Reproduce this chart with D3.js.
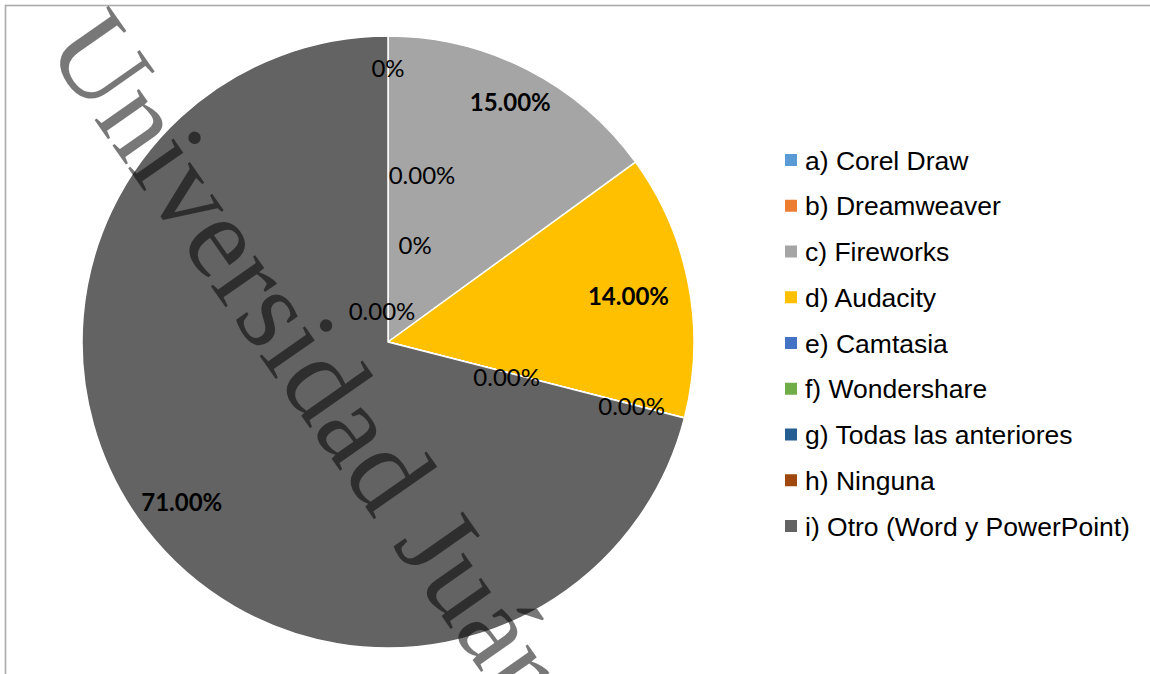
<!DOCTYPE html>
<html>
<head>
<meta charset="utf-8">
<script src="https://cdn.jsdelivr.net/npm/d3@7"></script>
<style>
  html, body { margin: 0; padding: 0; background: #fff; }
  svg { display: block; }
</style>
</head>
<body>
<svg id="chart" width="1150" height="674"></svg>
<script>
// ---- data ----
const categories = [
  "a) Corel Draw", "b) Dreamweaver", "c) Fireworks", "d) Audacity",
  "e) Camtasia", "f) Wondershare", "g) Todas las anteriores", "h) Ninguna",
  "i) Otro (Word y PowerPoint)"
];
const values = [0, 0, 15, 14, 0, 0, 0, 0, 71];
const valueLabels = ["0%", "0.00%", "15.00%", "14.00%", "0%", "0.00%", "0.00%", "0.00%", "71.00%"];
const boldLabels = [false, false, true, true, false, false, false, false, true];
const colors = ["#5B9BD5", "#ED7D31", "#A5A5A5", "#FFC000", "#4472C4", "#70AD47", "#255E91", "#9E480E", "#636363"];
const watermark = "Universidad Juárez";

// ---- layout (label placement as in the original, polar: degrees clockwise from top, fraction of radius) ----
const labelLayout = [
  { angle: 0, rf: 0.895 },
  { angle: 11.5, rf: 0.557 },
  { angle: null, rf: 0.88 },
  { angle: null, rf: 0.80 },
  { angle: 15.7, rf: 0.327 },
  { angle: -11, rf: 0.103 },
  { angle: 106.8, rf: 0.405 },
  { angle: 104.7, rf: 0.823 },
  { angle: null, rf: 0.853 }
];

const W = 1150, H = 674;
const cx = 388, cy = 342, R = 306;

const svg = d3.select("#chart");

// frame
svg.append("rect")
  .attr("x", 5.5).attr("y", 5.5)
  .attr("width", W + 20).attr("height", H + 20)
  .attr("fill", "none").attr("stroke", "#ababab").attr("stroke-width", 1.6);

const pie = d3.pie().sort(null).value(d => d)(values);
const arc = d3.arc().innerRadius(0).outerRadius(R);
const color = d3.scaleOrdinal().domain(categories).range(colors);

const g = svg.append("g").attr("transform", `translate(${cx},${cy})`);
g.selectAll("path.slice")
  .data(pie)
  .join("path")
  .attr("class", "slice")
  .attr("d", arc)
  .attr("fill", (d, i) => color(categories[i]))
  .attr("stroke", "#fff")
  .attr("stroke-width", 1.5)
  .attr("stroke-linejoin", "round");

// data labels
const toRad = Math.PI / 180;
g.selectAll("text.lbl")
  .data(pie)
  .join("text")
  .attr("class", "lbl")
  .each(function (d, i) {
    const L = labelLayout[i];
    const a = L.angle === null ? (d.startAngle + d.endAngle) / 2 : L.angle * toRad;
    const r = L.rf * R;
    d3.select(this)
      .attr("x", r * Math.sin(a))
      .attr("y", -r * Math.cos(a));
  })
  .attr("dy", "0.36em")
  .attr("text-anchor", "middle")
  .attr("font-family", "Lato, 'Open Sans', sans-serif")
  .attr("font-size", 24)
  .attr("font-weight", (d, i) => boldLabels[i] ? "bold" : "normal")
  .attr("fill", "#000")
  .text((d, i) => valueLabels[i]);

// legend
const legY = d3.scalePoint().domain(categories).range([160, 526]);
const leg = svg.append("g");
const items = leg.selectAll("g.item").data(categories).join("g")
  .attr("class", "item")
  .attr("transform", d => `translate(785,${legY(d)})`);
items.append("rect")
  .attr("x", 0).attr("y", -6).attr("width", 12).attr("height", 12)
  .attr("fill", d => color(d));
items.append("text")
  .attr("x", 20).attr("y", 0).attr("dy", "0.36em")
  .attr("font-family", "'Liberation Sans', Arial, sans-serif")
  .attr("font-size", 26.5)
  .attr("fill", "#000")
  .text(d => d);

// watermark
svg.append("text")
  .attr("transform", "translate(44,48) rotate(55)")
  .attr("font-family", "'Liberation Serif', 'Times New Roman', serif")
  .attr("font-size", 118)
  .attr("fill", "#000")
  .attr("fill-opacity", 0.53)
  .text(watermark);
</script>
</body>
</html>
